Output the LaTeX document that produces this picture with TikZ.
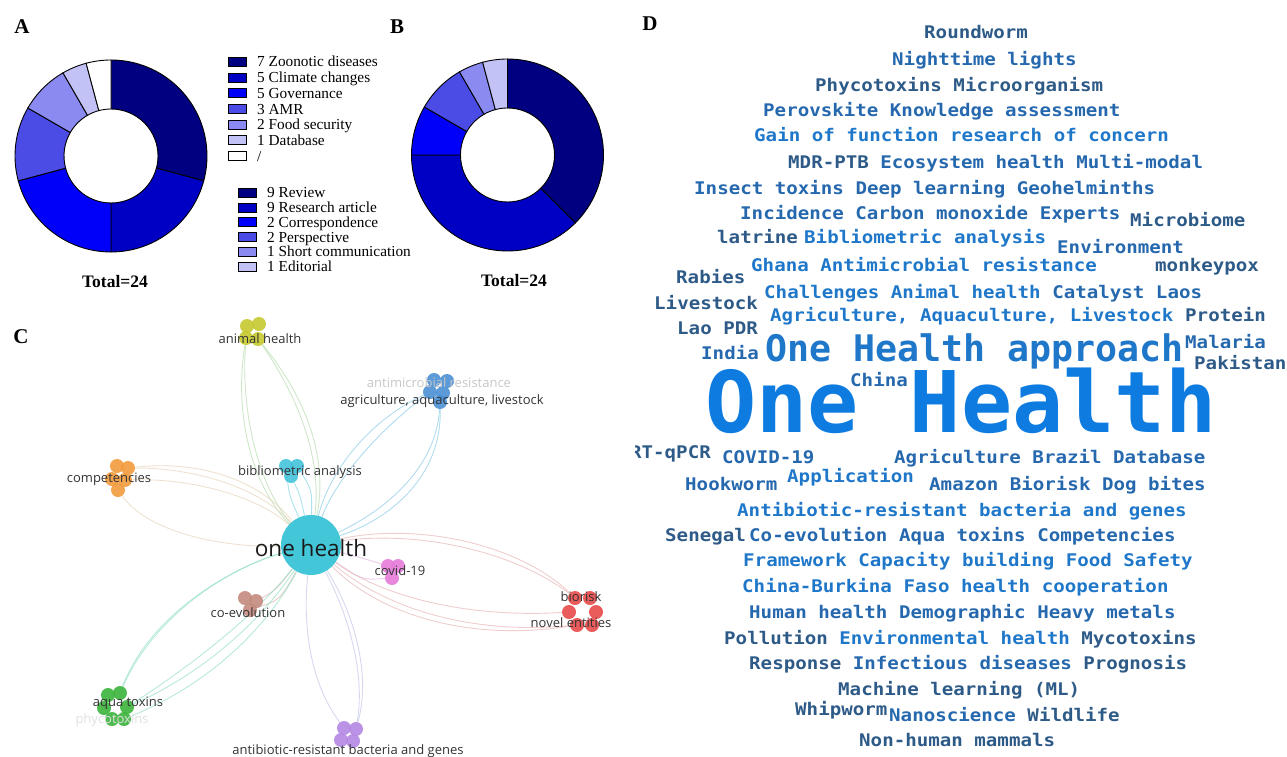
\documentclass[tikz,border=0pt]{standalone}
\usepackage{fontspec}
\setmainfont{Liberation Serif}
\newfontfamily\osans{Open Sans}
\newfontfamily\wcf[FakeStretch=1.1]{DejaVu Sans Mono}
\newfontfamily\wcb{DejaVu Sans Mono}
\usetikzlibrary{calc}
\pgfdeclarelayer{background}
\pgfsetlayers{background,main}
\definecolor{c1}{HTML}{000080}
\definecolor{c2}{HTML}{0000C4}
\definecolor{c3}{HTML}{0000FA}
\definecolor{c4}{HTML}{4B4BE6}
\definecolor{c5}{HTML}{8A8AF0}
\definecolor{c6}{HTML}{C2C2F6}
\definecolor{wdark}{HTML}{2D5A87}
\definecolor{wmid}{HTML}{2568AE}
\definecolor{wbright}{HTML}{1F77C9}
\definecolor{wbig}{HTML}{0D7BE0}
\definecolor{labgray}{HTML}{333333}
\definecolor{ohc}{HTML}{44C6D9}
\definecolor{ahc}{HTML}{C5C82E}
\definecolor{cpc}{HTML}{F29A3C}
\definecolor{bac}{HTML}{45C3DB}
\definecolor{agc}{HTML}{4B8FD4}
\definecolor{cvc}{HTML}{E57BD8}
\definecolor{brc}{HTML}{E84A4A}
\definecolor{cec}{HTML}{C48A7E}
\definecolor{atc}{HTML}{3BB43B}
\definecolor{abc}{HTML}{B487E3}
\definecolor{eah}{HTML}{B8DDB0}
\definecolor{ecp}{HTML}{E6D6BC}
\definecolor{eba}{HTML}{88D8E4}
\definecolor{eag}{HTML}{90CCE8}
\definecolor{ecv}{HTML}{E2B8E2}
\definecolor{ebr}{HTML}{E8B8B8}
\definecolor{ece}{HTML}{D8B8B0}
\definecolor{eat}{HTML}{98E0C8}
\definecolor{eab}{HTML}{C4C8EA}
\newcommand\dseg[4]{\draw[line width=0.9pt, fill=#4] ($(#1)+(#2:96pt)$) arc[start angle=#2, end angle=#3, radius=96pt] -- ($(#1)+(#3:47pt)$) arc[start angle=#3, end angle=#2, radius=47pt] -- cycle;}
\tikzset{
  panel/.style={font=\fontsize{21}{21}\selectfont\bfseries, inner sep=0},
  leg/.style={anchor=base west, inner sep=0, font=\fontsize{15.3}{16}\selectfont},
  legbox/.style={draw=black, line width=0.8pt, minimum width=18pt, minimum height=9pt, inner sep=0},
  total/.style={font=\fontsize{17.5}{18}\selectfont\bfseries, inner sep=0},
  wc/.style={anchor=base west, inner sep=0, font=\wcf\bfseries\fontsize{17.4}{18}\selectfont},
  clab/.style={font=\osans\fontsize{13}{14}\selectfont, text=labgray, inner sep=0},
  blob/.style={circle, minimum size=14pt, inner sep=0, fill opacity=0.9},
  cedge/.style={line width=0.9pt, opacity=0.7}
}
\begin{document}
\begin{tikzpicture}[x=1pt,y=-1pt]
\useasboundingbox (0,0) rectangle (1287,757);

% ---------- Panel labels
\node[panel] (pA) at (22,27) {A};
\node[panel] (pB) at (397,27) {B};
\node[panel] (pC) at (21,337) {C};
\node[panel] (pD) at (650,24) {D};

% ---------- Panel A donut
\coordinate (ca) at (111,156);
\dseg{ca}{90}{-15}{c1}
\dseg{ca}{-15}{-90}{c2}
\dseg{ca}{-90}{-165}{c3}
\dseg{ca}{195}{150}{c4}
\dseg{ca}{150}{120}{c5}
\dseg{ca}{120}{105}{c6}
\dseg{ca}{105}{90}{white}
\node[total] (tA) at (115,282) {Total=24};

% legend A
\node[legbox, fill=c1] (la1) at (237,62) {};
\node[legbox, fill=c2] (la2) at (237,77.7) {};
\node[legbox, fill=c3] (la3) at (237,93.3) {};
\node[legbox, fill=c4] (la4) at (237,109) {};
\node[legbox, fill=c5] (la5) at (237,124.6) {};
\node[legbox, fill=c6] (la6) at (237,140.3) {};
\node[legbox, fill=white] (la7) at (237,156) {};
\node[leg] (ta1) at (257,67) {7 Zoonotic diseases};
\node[leg] (ta2) at (257,82.7) {5 Climate changes};
\node[leg] (ta3) at (257,98.3) {5 Governance};
\node[leg] (ta4) at (257,114) {3 AMR};
\node[leg] (ta5) at (257,129.6) {2 Food security};
\node[leg] (ta6) at (257,145.3) {1 Database};
\node[leg] (ta7) at (257,161) {/};

% legend B
\node[legbox, fill=c1] (lb1) at (247,192.7) {};
\node[legbox, fill=c2] (lb2) at (247,207.5) {};
\node[legbox, fill=c3] (lb3) at (247,222.3) {};
\node[legbox, fill=c4] (lb4) at (247,237.1) {};
\node[legbox, fill=c5] (lb5) at (247,251.9) {};
\node[legbox, fill=c6] (lb6) at (247,266.7) {};
\node[leg] (tb1) at (267,197.7) {9 Review};
\node[leg] (tb2) at (267,212.5) {9 Research article};
\node[leg] (tb3) at (267,227.3) {2 Correspondence};
\node[leg] (tb4) at (267,242.1) {2 Perspective};
\node[leg] (tb5) at (267,256.9) {1 Short communication};
\node[leg] (tb6) at (267,271.7) {1 Editorial};

% ---------- Panel B donut
\coordinate (cb) at (507.5,155);
\dseg{cb}{90}{-45}{c1}
\dseg{cb}{-45}{-180}{c2}
\dseg{cb}{180}{150}{c3}
\dseg{cb}{150}{120}{c4}
\dseg{cb}{120}{105}{c5}
\dseg{cb}{105}{90}{c6}
\node[total] (tB) at (514,281) {Total=24};

% ---------- Panel C network
\node[circle, minimum size=60pt, inner sep=0, fill=ohc] (oh) at (311,545) {};
% animal health
\node[blob, fill=ahc] (ah1) at (247,326) {};
\node[blob, fill=ahc] (ah2) at (259,324) {};
\node[blob, fill=ahc] (ah3) at (246,338) {};
\node[blob, fill=ahc] (ah4) at (258,339) {};
% competencies
\node[blob, fill=cpc] (cp1) at (117,466) {};
\node[blob, fill=cpc] (cp2) at (128,468) {};
\node[blob, fill=cpc] (cp3) at (112,479) {};
\node[blob, fill=cpc] (cp4) at (125,480) {};
\node[blob, fill=cpc] (cp5) at (118,490) {};
% bibliometric
\node[blob, fill=bac] (ba1) at (286,466) {};
\node[blob, fill=bac] (ba2) at (297,466) {};
\node[blob, fill=bac] (ba3) at (291,476) {};
% agriculture
\node[blob, fill=agc] (ag1) at (434,380) {};
\node[blob, fill=agc] (ag2) at (447,381) {};
\node[blob, fill=agc] (ag3) at (430,392) {};
\node[blob, fill=agc] (ag4) at (443,393) {};
\node[blob, fill=agc] (ag5) at (440,402) {};
% covid
\node[blob, fill=cvc] (cv1) at (388,566) {};
\node[blob, fill=cvc] (cv2) at (398,566) {};
\node[blob, fill=cvc] (cv3) at (392,578) {};
% biorisk
\node[blob, fill=brc] (br1) at (575,598) {};
\node[blob, fill=brc] (br2) at (590,598) {};
\node[blob, fill=brc] (br3) at (569,612) {};
\node[blob, fill=brc] (br4) at (596,612) {};
\node[blob, fill=brc] (br5) at (577,625) {};
\node[blob, fill=brc] (br6) at (592,625) {};
% co-evolution
\node[blob, fill=cec] (ce1) at (245,598) {};
\node[blob, fill=cec] (ce2) at (256,601) {};
\node[blob, fill=cec] (ce3) at (250,610) {};
% aqua toxins
\node[blob, fill=atc] (at1) at (108,695) {};
\node[blob, fill=atc] (at2) at (120,693) {};
\node[blob, fill=atc] (at3) at (104,708) {};
\node[blob, fill=atc] (at4) at (127,707) {};
\node[blob, fill=atc] (at5) at (112,719) {};
\node[blob, fill=atc] (at6) at (124,719) {};
% antibiotic
\node[blob, fill=abc] (ab1) at (344,728) {};
\node[blob, fill=abc] (ab2) at (356,729) {};
\node[blob, fill=abc] (ab3) at (341,740) {};
\node[blob, fill=abc] (ab4) at (353,741) {};

\begin{pgfonlayer}{background}
\draw[cedge, eah] (ah3) .. controls (233,420) and (255,490) .. (oh);
\draw[cedge, eah] (ah3) .. controls (240,425) and (265,495) .. (oh);
\draw[cedge, eah] (ah4) .. controls (300,400) and (322,460) .. (oh);
\draw[cedge, eah] (ah4) .. controls (308,400) and (328,460) .. (oh);
\draw[cedge, ecp] (cp2) .. controls (200,460) and (260,480) .. (oh);
\draw[cedge, ecp] (cp2) .. controls (200,468) and (262,490) .. (oh);
\draw[cedge, ecp] (cp4) .. controls (200,478) and (262,500) .. (oh);
\draw[cedge, ecp] (cp5) .. controls (150,535) and (230,548) .. (oh);
\draw[cedge, eba] (ba1) .. controls (289,495) .. (oh);
\draw[cedge, eba] (ba3) .. controls (300,495) .. (oh);
\draw[cedge, eba] (ba2) .. controls (312,490) .. (oh);
\draw[cedge, eag] (ag3) .. controls (370,420) and (330,470) .. (oh);
\draw[cedge, eag] (ag3) .. controls (377,432) and (336,480) .. (oh);
\draw[cedge, eag] (ag5) .. controls (436,470) and (382,512) .. (oh);
\draw[cedge, eag] (ag5) .. controls (442,478) and (388,520) .. (oh);
\draw[cedge, ecv] (cv1) .. controls (362,558) .. (oh);
\draw[cedge, ecv] (cv3) .. controls (362,580) .. (oh);
\draw[cedge, ebr] (br1) .. controls (520,545) and (420,522) .. (oh);
\draw[cedge, ebr] (br1) .. controls (515,552) and (420,530) .. (oh);
\draw[cedge, ebr] (br3) .. controls (470,618) and (385,598) .. (oh);
\draw[cedge, ebr] (br5) .. controls (470,635) and (385,608) .. (oh);
\draw[cedge, ebr] (br5) .. controls (470,642) and (380,615) .. (oh);
\draw[cedge, ece] (ce2) .. controls (276,590) .. (oh);
\draw[cedge, ece] (ce3) .. controls (280,600) .. (oh);
\draw[cedge, eat] (at2) .. controls (150,615) and (230,568) .. (oh);
\draw[cedge, eat] (at2) .. controls (156,612) and (234,566) .. (oh);
\draw[cedge, eat] (at4) .. controls (200,660) and (260,610) .. (oh);
\draw[cedge, eat] (at4) .. controls (210,670) and (265,615) .. (oh);
\draw[cedge, eat] (at6) .. controls (215,682) and (270,622) .. (oh);
\draw[cedge, eab] (ab1) .. controls (308,680) and (303,620) .. (oh);
\draw[cedge, eab] (ab2) .. controls (366,670) and (346,610) .. (oh);
\draw[cedge, eab] (ab2) .. controls (372,672) and (352,610) .. (oh);
\end{pgfonlayer}

\node[clab] (lah) at (260,339) {animal health};
\node[clab] (lcp) at (109,479) {competencies};
\node[clab] (lba) at (300,472) {bibliometric analysis};
\node[clab, text=black!22] (lam) at (439,383) {antimicrobial resistance};
\node[clab] (lag) at (442,401) {agriculture, aquaculture, livestock};
\node[clab] (lcv) at (400,571) {covid-19};
\node[clab] (lbr) at (581,597) {biorisk};
\node[clab] (lne) at (571,623) {novel entities};
\node[clab] (lce) at (248,613) {co-evolution};
\node[clab] (lat) at (128,703) {aqua toxins};
\node[clab, text=black!12] (lph) at (112,720) {phycotoxins};
\node[clab] (lab) at (348,751) {antibiotic-resistant bacteria and genes};
\node[font=\osans\fontsize{22.5}{24}\selectfont, text=black!90, inner sep=0] (ohl) at (311,548) {one health};

% ---------- Panel D word cloud
\begin{scope}
\clip (635,0) rectangle (1287,757);
\node[wc, text=wdark] (w1) at (924,39) {Roundworm};
\node[wc, text=wmid] (w2) at (892,66) {Nighttime lights};
\node[wc, text=wdark] (w3) at (815,92) {Phycotoxins Microorganism};
\node[wc, text=wmid] (w4) at (763,117) {Perovskite Knowledge assessment};
\node[wc, text=wbright] (w5) at (754,142) {Gain of function research of concern};
\node[wc, text=wmid] (w6) at (788,168) {{\color{wdark}MDR-PTB} Ecosystem health Multi-modal};
\node[wc, text=wmid] (w7) at (694,194) {Insect toxins Deep learning Geohelminths};
\node[wc, text=wmid] (w8) at (740,219) {Incidence Carbon monoxide Experts};
\node[wc, text=wdark] (w9) at (1130,226) {Microbiome};
\node[wc, text=wdark] (w10) at (717,243) {latrine};
\node[wc, text=wbright] (w11) at (804,243) {Bibliometric analysis};
\node[wc, text=wmid] (w12) at (1057,253) {Environment};
\node[wc, text=wbright] (w13) at (751,271) {Ghana Antimicrobial resistance};
\node[wc, text=wdark] (w14) at (1155,271) {monkeypox};
\node[wc, text=wdark] (w15) at (676,283) {Rabies};
\node[wc, text=wbright] (w16) at (764,298) {Challenges Animal health {\color{wmid}Catalyst Laos}};
\node[wc, text=wdark] (w17) at (654,309) {Livestock};
\node[wc, text=wbright] (w18) at (770,321) {Agriculture, Aquaculture, Livestock};
\node[wc, text=wdark] (w19) at (1185,321) {Protein};
\node[wc, text=wdark] (w20) at (677,334) {Lao PDR};
\node[wc, text=wmid] (w21) at (701,359) {India};
\node[wc, text=wmid] (w22) at (1185,348) {Malaria};
\node[wc, text=wdark] (w23) at (1194,369) {Pakistan};
\node[wc, text=wmid] (w24) at (850,386) {China};
\node[anchor=base west, inner sep=0, text depth=0pt, font=\wcb\bfseries\fontsize{36.6}{38}\selectfont, text=wbright] (w25) at (765,361) {One Health approach};
\node[anchor=base west, inner sep=0, text depth=0pt, font=\wcb\bfseries\fontsize{85}{86}\selectfont, text=wbig] (w26) at (705,432) {One Health};
\node[wc, anchor=base east, text=wdark] (w27) at (711,458) {RT-qPCR};
\node[wc, text=wmid] (w28) at (722,463) {COVID-19};
\node[wc, text=wmid] (w29) at (894,463) {Agriculture Brazil Database};
\node[wc, text=wmid] (w30) at (685,490) {Hookworm};
\node[wc, text=wbright] (w31) at (787,482) {Application};
\node[wc, text=wmid] (w32) at (929,490) {Amazon Biorisk Dog bites};
\node[wc, text=wbright] (w33) at (737,516) {Antibiotic-resistant bacteria and genes};
\node[wc, text=wdark] (w34) at (665,541) {Senegal};
\node[wc, text=wmid] (w35) at (749,541) {Co-evolution Aqua toxins Competencies};
\node[wc, text=wbright] (w36) at (743,566) {Framework Capacity building Food Safety};
\node[wc, text=wbright] (w37) at (742,592) {China-Burkina Faso health cooperation};
\node[wc, text=wmid] (w38) at (749,618) {Human health Demographic Heavy metals};
\node[wc, text=wdark] (w39) at (724,644) {Pollution {\color{wbright}Environmental health} Mycotoxins};
\node[wc, text=wdark] (w40) at (749,669) {Response {\color{wmid}Infectious diseases} Prognosis};
\node[wc, text=wdark] (w41) at (838,695) {Machine learning (ML)};
\node[wc, text=wdark] (w42) at (795,715) {Whipworm};
\node[wc, text=wdark] (w43) at (889,721) {{\color{wmid}Nanoscience} Wildlife};
\node[wc, text=wdark] (w44) at (859,746) {Non-human mammals};
\end{scope}
\end{tikzpicture}
\end{document}
